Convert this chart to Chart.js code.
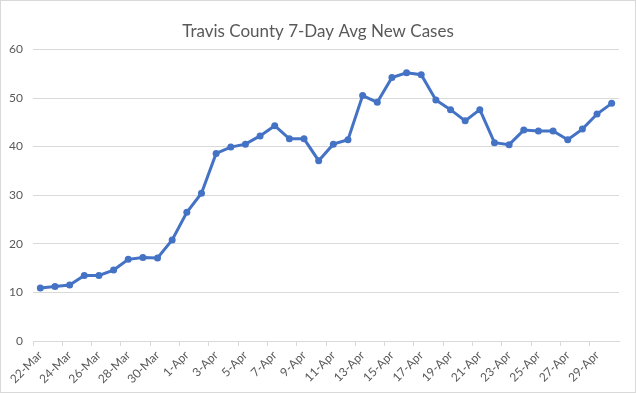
<!DOCTYPE html>
<html>
<head>
<meta charset="utf-8">
<script src="https://cdn.jsdelivr.net/npm/chart.js@4"></script>
<style>
  html, body { margin: 0; padding: 0; background: #fff; }
  canvas { display: block; }
</style>
</head>
<body>
<canvas id="casesChart" width="636" height="393"></canvas>
<script>
// dates 22-Mar .. 30-Apr
const marDays = [22, 23, 24, 25, 26, 27, 28, 29, 30, 31];
const aprDays = [1, 2, 3, 4, 5, 6, 7, 8, 9, 10, 11, 12, 13, 14, 15, 16, 17, 18, 19, 20,
                 21, 22, 23, 24, 25, 26, 27, 28, 29, 30];
const labels = marDays.map(d => d + '-Mar').concat(aprDays.map(d => d + '-Apr'));

// 7-day average of new cases
const avgNewCases = [10.9, 11.2, 11.5, 13.5, 13.5, 14.6, 16.8, 17.2, 17.1, 20.8,
                     26.5, 30.4, 38.6, 39.9, 40.5, 42.2, 44.3, 41.6, 41.6, 37.1,
                     40.5, 41.4, 50.5, 49.1, 54.2, 55.2, 54.8, 49.6, 47.6, 45.3,
                     47.6, 40.8, 40.4, 43.4, 43.2, 43.2, 41.4, 43.6, 46.7, 48.9];

const yTicks = [0, 10, 20, 30, 40, 50, 60];

const textGrey = '#595959';
const gridGrey = '#d9d9d9';

// white background + thin frame like the Excel chart area
const frame = {
    id: 'frame',
    beforeDraw(chart) {
        const c = chart.ctx;
        c.save();
        c.fillStyle = '#fff';
        c.fillRect(0, 0, chart.width, chart.height);
        c.strokeStyle = gridGrey;
        c.lineWidth = 1;
        c.strokeRect(0.5, 0.5, chart.width - 1, chart.height - 1);
        c.restore();
    }
};

new Chart(document.getElementById('casesChart'), {
    type: 'line',
    data: {
        labels: labels,
        datasets: [{
            label: '7-Day Avg New Cases',
            data: avgNewCases,
            borderColor: '#4472C4',
            backgroundColor: '#4472C4',
            borderWidth: 3,
            pointRadius: 3.5,
            pointHoverRadius: 3.5,
            pointBorderWidth: 0,
            tension: 0
        }]
    },
    options: {
        responsive: false,
        animation: false,
        layout: { padding: { top: 14, right: 0, left: 0, bottom: 0 } },
        plugins: {
            legend: { display: false },
            tooltip: { enabled: false },
            title: {
                display: true,
                text: 'Travis County 7-Day Avg New Cases',
                color: textGrey,
                font: { family: 'Lato', size: 17, weight: 'normal' },
                padding: { top: 7, bottom: 8 }
            }
        },
        scales: {
            x: {
                offset: true,
                afterFit(scale) { scale.height = 52; },
                grid: {
                    offset: true,
                    drawOnChartArea: false,
                    tickLength: 5,
                    color: ctx => (ctx.index % 2 === 0 ? gridGrey : 'rgba(0,0,0,0)')
                },
                border: { color: gridGrey },
                ticks: {
                    autoSkip: false,
                    minRotation: 45,
                    maxRotation: 45,
                    color: textGrey,
                    font: { family: 'Lato', size: 12 },
                    padding: 2,
                    callback: (v, i) => (i % 2 === 0 ? labels[i] : '')
                }
            },
            y: {
                min: 0,
                max: 60,
                afterFit(scale) { scale.width = 33; },
                afterBuildTicks(scale) { scale.ticks = yTicks.map(v => ({ value: v })); },
                grid: { color: gridGrey, drawTicks: false },
                border: { display: false },
                ticks: {
                    color: textGrey,
                    font: { family: 'Lato', size: 12 },
                    padding: 10
                }
            },
            // empty right-hand spacer so the title stays centred on the whole chart
            yRight: {
                position: 'right',
                min: 0,
                max: 60,
                afterFit(scale) { scale.width = 17; },
                grid: { display: false },
                border: { display: false },
                ticks: { display: false }
            }
        }
    },
    plugins: [frame]
});
</script>
</body>
</html>
